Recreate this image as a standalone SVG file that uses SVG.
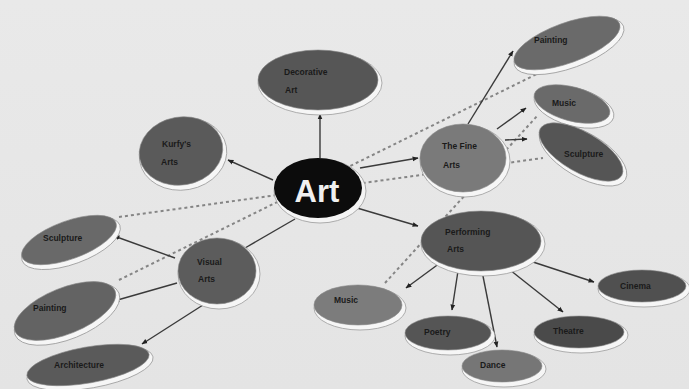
<svg xmlns="http://www.w3.org/2000/svg" width="689" height="389" viewBox="0 0 689 389">
<defs>
<linearGradient id="bg" x1="0" y1="0" x2="0" y2="1">
<stop offset="0" stop-color="#e9e9e9"/><stop offset="1" stop-color="#e4e4e4"/>
</linearGradient>
<marker id="ah" viewBox="0 0 10 10" refX="9" refY="5" markerWidth="6" markerHeight="6" markerUnits="userSpaceOnUse" orient="auto">
<path d="M0,1 L10,5 L0,9 z" fill="#222"/>
</marker>
</defs>
<style>
.rim{fill:#f6f6f6;stroke:#9c9c9c;stroke-width:0.8}
.n{stroke:#8a8a8a;stroke-width:0.6}
.t{font-family:"Liberation Sans",Arial,sans-serif;font-size:8.5px;font-weight:bold;fill:#1a1a1a}
.dash{stroke:#858585;stroke-width:2;stroke-dasharray:3 3;fill:none}
.ln{stroke:#3a3a3a;stroke-width:1.4;fill:none}
.arr{stroke:#3a3a3a;stroke-width:1.4;fill:none;marker-end:url(#ah)}
</style>
<rect width="689" height="389" fill="url(#bg)"/>

<g id="connectors">
<line class="dash" x1="119" y1="217" x2="543" y2="158"/>
<line class="dash" x1="119" y1="280" x2="545" y2="70"/>
<line class="dash" x1="385" y1="283" x2="538" y2="115"/>
<line class="arr" x1="320" y1="158" x2="320" y2="114"/>
<line class="arr" x1="273" y1="180" x2="228" y2="160"/>
<line class="arr" x1="360" y1="168" x2="418" y2="158"/>
<line class="arr" x1="357" y1="208" x2="418" y2="226"/>
<line class="ln" x1="295" y1="219" x2="245" y2="248"/>
<line class="arr" x1="468" y1="124" x2="513" y2="51"/>
<line class="arr" x1="497" y1="129" x2="526" y2="108"/>
<line class="arr" x1="505" y1="140" x2="527" y2="139"/>
<line class="arr" x1="175" y1="258" x2="114" y2="236"/>
<line class="arr" x1="177" y1="283" x2="114" y2="301"/>
<line class="arr" x1="203" y1="305" x2="142" y2="344"/>
<line class="arr" x1="440" y1="263" x2="406" y2="288"/>
<line class="arr" x1="458" y1="271" x2="452" y2="310"/>
<line class="arr" x1="482" y1="271" x2="497" y2="347"/>
<line class="arr" x1="510" y1="270" x2="563" y2="312"/>
<line class="arr" x1="533" y1="262" x2="594" y2="282"/>
</g>

<g id="n-decorative">
<ellipse class="rim" cx="320" cy="83" rx="62" ry="32"/>
<ellipse class="n" cx="318" cy="80" rx="60" ry="30" fill="#565656"/>
<text class="t" x="284" y="75">Decorative</text>
<text class="t" x="285" y="93">Art</text>
</g>

<g id="n-kurfys">
<ellipse class="rim" cx="183" cy="154" rx="44" ry="36" transform="rotate(-10 183 154)"/>
<ellipse class="n" cx="181" cy="151" rx="42" ry="34" fill="#5a5a5a" transform="rotate(-10 181 151)"/>
<text class="t" x="162" y="147">Kurfy's</text>
<text class="t" x="161" y="165">Arts</text>
</g>

<g id="n-art">
<ellipse cx="320" cy="191" rx="46" ry="32" fill="#f4f4f4" stroke="#9a9a9a" stroke-width="0.8"/>
<ellipse cx="318" cy="188" rx="44" ry="30" fill="#0c0c0c"/>
<text x="317" y="202" text-anchor="middle" font-family="Liberation Sans,Arial,sans-serif" font-size="31" font-weight="bold" fill="#f0f0f0">Art</text>
</g>

<g id="n-finearts">
<ellipse class="rim" cx="465" cy="161" rx="45" ry="36"/>
<ellipse class="n" cx="463" cy="158" rx="43" ry="34" fill="#7a7a7a"/>
<text class="t" x="442" y="149">The Fine</text>
<text class="t" x="443" y="168">Arts</text>
</g>

<g id="n-painting-r">
<ellipse class="rim" cx="569" cy="46" rx="58" ry="22" transform="rotate(-20 569 46)"/>
<ellipse class="n" cx="567" cy="43" rx="56" ry="20" fill="#6a6a6a" transform="rotate(-20 567 43)"/>
<text class="t" x="534" y="43">Painting</text>
</g>

<g id="n-music-r">
<ellipse class="rim" cx="574" cy="107" rx="41" ry="19" transform="rotate(15 574 107)"/>
<ellipse class="n" cx="572" cy="104" rx="39" ry="17" fill="#6a6a6a" transform="rotate(15 572 104)"/>
<text class="t" x="552" y="106">Music</text>
</g>

<g id="n-sculpture-r">
<ellipse class="rim" cx="583" cy="155" rx="49" ry="22" transform="rotate(30 583 155)"/>
<ellipse class="n" cx="581" cy="152" rx="47" ry="20" fill="#555555" transform="rotate(30 581 152)"/>
<text class="t" x="564" y="157">Sculpture</text>
</g>

<g id="n-performing">
<ellipse class="rim" cx="483" cy="244" rx="62" ry="32"/>
<ellipse class="n" cx="481" cy="241" rx="60" ry="30" fill="#555555"/>
<text class="t" x="445" y="235">Performing</text>
<text class="t" x="447" y="252">Arts</text>
</g>

<g id="n-visual">
<ellipse class="rim" cx="219" cy="274" rx="41" ry="35"/>
<ellipse class="n" cx="217" cy="271" rx="39" ry="33" fill="#5c5c5c"/>
<text class="t" x="197" y="265">Visual</text>
<text class="t" x="198" y="282">Arts</text>
</g>

<g id="n-sculpture-l">
<ellipse class="rim" cx="71" cy="243" rx="52" ry="21" transform="rotate(-20 71 243)"/>
<ellipse class="n" cx="69" cy="240" rx="50" ry="19" fill="#696969" transform="rotate(-20 69 240)"/>
<text class="t" x="43" y="241">Sculpture</text>
</g>

<g id="n-painting-l">
<ellipse class="rim" cx="67" cy="314" rx="56" ry="25" transform="rotate(-22 67 314)"/>
<ellipse class="n" cx="65" cy="311" rx="54" ry="23" fill="#636363" transform="rotate(-22 65 311)"/>
<text class="t" x="33" y="311">Painting</text>
</g>

<g id="n-architecture">
<ellipse class="rim" cx="90" cy="368" rx="64" ry="20" transform="rotate(-10 90 368)"/>
<ellipse class="n" cx="88" cy="365" rx="62" ry="18" fill="#5a5a5a" transform="rotate(-10 88 365)"/>
<text class="t" x="54" y="368">Architecture</text>
</g>

<g id="n-music-b">
<ellipse class="rim" cx="360" cy="308" rx="46" ry="22"/>
<ellipse class="n" cx="358" cy="305" rx="44" ry="20" fill="#7c7c7c"/>
<text class="t" x="334" y="303">Music</text>
</g>

<g id="n-poetry">
<ellipse class="rim" cx="450" cy="336" rx="45" ry="19"/>
<ellipse class="n" cx="448" cy="333" rx="43" ry="17" fill="#555555"/>
<text class="t" x="424" y="335">Poetry</text>
</g>

<g id="n-dance">
<ellipse class="rim" cx="504" cy="369" rx="42" ry="18"/>
<ellipse class="n" cx="502" cy="366" rx="40" ry="16" fill="#767676"/>
<text class="t" x="480" y="368">Dance</text>
</g>

<g id="n-theatre">
<ellipse class="rim" cx="581" cy="335" rx="47" ry="18"/>
<ellipse class="n" cx="579" cy="332" rx="45" ry="16" fill="#4a4a4a"/>
<text class="t" x="553" y="334">Theatre</text>
</g>

<g id="n-cinema">
<ellipse class="rim" cx="644" cy="289" rx="46" ry="18"/>
<ellipse class="n" cx="642" cy="286" rx="44" ry="16" fill="#505050"/>
<text class="t" x="620" y="289">Cinema</text>
</g>
</svg>
